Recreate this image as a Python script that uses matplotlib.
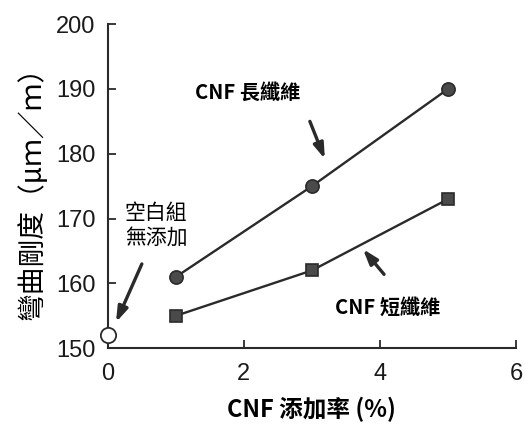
import matplotlib
matplotlib.use("Agg")
import matplotlib.pyplot as plt

plt.rcParams['font.family'] = ['Noto Sans CJK TC', 'DejaVu Sans']

conc = [1, 3, 5]
long_fiber = [161, 175, 190]
short_fiber = [155, 162, 173]
blank_x = [0]
blank_y = [152]
xticks = [0, 2, 4, 6]
yticks = [150, 160, 170, 180, 190, 200]

fig = plt.figure(figsize=(5.26, 4.32), dpi=100)
ax = fig.add_axes([0.205, 0.194, 0.776, 0.75])

c = '#2a2a2a'
ax.plot(conc, long_fiber, '-o', color=c, lw=1.7, ms=9.5, mfc='#4a4a4a', mec=c, mew=1.2, zorder=3)
ax.plot(conc, short_fiber, '-s', color=c, lw=1.7, ms=9, mfc='#4a4a4a', mec=c, mew=1.2, zorder=3)
ax.plot(blank_x, blank_y, 'o', ms=11, mfc='white', mec=c, mew=1.3, clip_on=False, zorder=4)

ax.set_xlim(0, 6)
ax.set_ylim(150, 200)
ax.set_xticks(xticks)
ax.set_yticks(yticks)
tickfont = ['Liberation Sans Narrow', 'Liberation Sans', 'DejaVu Sans']
ax.set_xticklabels([str(t) for t in xticks], family=tickfont, fontsize=17, color='#1a1a1a')
ax.set_yticklabels([str(t) for t in yticks], family=tickfont, fontsize=17, color='#1a1a1a')
ax.tick_params(direction='in', length=6, width=1.3, color=c)
ax.tick_params(axis='x', pad=11)
ax.tick_params(axis='y', pad=9)
for s in ['top', 'right']:
    ax.spines[s].set_visible(False)
for s in ['left', 'bottom']:
    ax.spines[s].set_color(c)
    ax.spines[s].set_linewidth(1.5)

ax.set_xlabel('CNF 添加率 (%)', fontsize=17, fontweight='bold', labelpad=8)
ax.set_ylabel('彎曲剛度（μｍ／ｍ）', fontsize=20, fontweight='medium', labelpad=6)

ax.text(1.28, 189.5, 'CNF 長纖維', fontsize=14.5, fontweight='bold', ha='left', va='center')
ax.text(3.34, 156.3, 'CNF 短纖維', fontsize=14.5, fontweight='bold', ha='left', va='center')
ax.text(0.25, 169.0, '空白組\n無添加', fontsize=15, ha='left', va='center', linespacing=1.15)

ap = dict(arrowstyle='-|>,head_length=0.9,head_width=0.3', lw=2.4, color=c, shrinkA=0, shrinkB=0)
ax.annotate('', xy=(3.19, 179.2), xytext=(2.97, 185.0), arrowprops=ap)
ax.annotate('', xy=(3.75, 165.3), xytext=(4.06, 161.4), arrowprops=ap)
ax.annotate('', xy=(0.12, 154.0), xytext=(0.5, 163.0), arrowprops=ap)

fig.savefig('out.png', dpi=100)
